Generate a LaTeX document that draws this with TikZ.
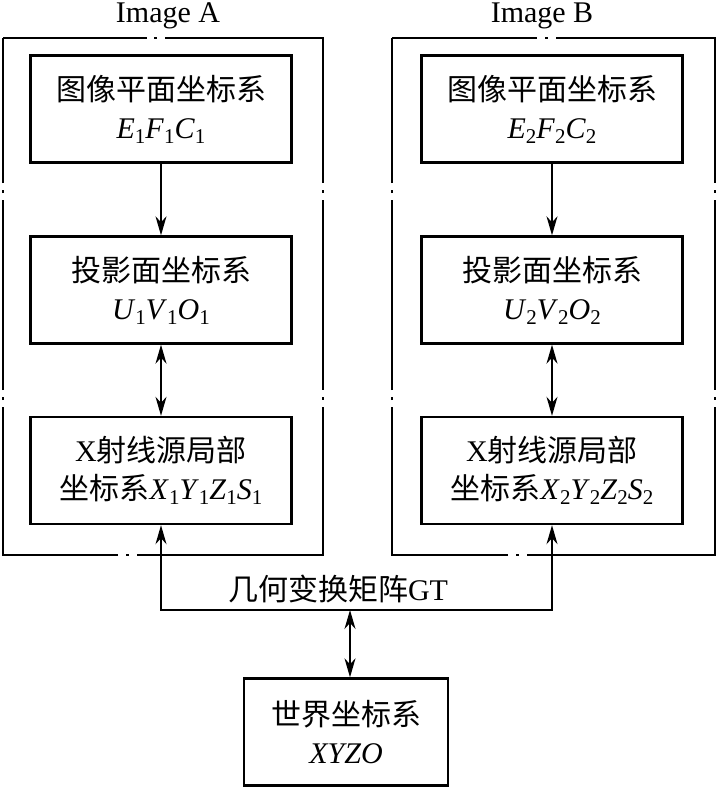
\documentclass[tikz,border=0pt]{standalone}
\usepackage{fontspec}
\setmainfont{Liberation Serif}
\newfontfamily\cjk{Noto Sans CJK SC}
\usetikzlibrary{arrows.meta}
\newcommand{\ssb}[1]{\raisebox{-0.35ex}{\fontsize{21}{21}\selectfont #1}}
\tikzset{
  x=1pt, y=-1pt,
  box/.style={draw, line width=2.4pt, minimum width=261pt, minimum height=107pt, inner sep=0pt, align=center, font=\fontsize{30}{38}\selectfont},
  frame/.style={line width=1.4pt, line cap=butt},
  tip/.tip={Stealth[length=19pt,width=11pt,inset=6pt]},
  arr/.style={line width=1.6pt, -tip},
  darr/.style={line width=1.6pt, tip-tip},
  lbl/.style={font=\fontsize{30}{36}\selectfont, inner sep=0pt}
}
\begin{document}
\begin{tikzpicture}
\useasboundingbox (0,0) rectangle (717,787);
% frames A
\draw[frame] (3,38) -- (147,38) (154,38) -- (157,38) (165,38) -- (323,38)
  -- (323,183) (323,190) -- (323,193) (323,200) -- (323,390) (323,397) -- (323,400) (323,407) -- (323,555)
  -- (137,555) (129,555) -- (126,555) (118,555) -- (3,555)
  -- (3,407) (3,400) -- (3,397) (3,390) -- (3,200) (3,193) -- (3,190) (3,183) -- (3,38);
% frames B
\draw[frame] (392,38) -- (537,38) (545,38) -- (548,38) (556,38) -- (715,38)
  -- (715,183) (715,190) -- (715,193) (715,200) -- (715,390) (715,397) -- (715,400) (715,407) -- (715,555)
  -- (527,555) (519,555) -- (516,555) (508,555) -- (392,555)
  -- (392,407) (392,400) -- (392,397) (392,390) -- (392,200) (392,193) -- (392,190) (392,183) -- (392,38);
\node[lbl, anchor=base] (ta) at (168,23) {Image A};
\node[lbl, anchor=base] (tb) at (542,23) {Image B};
\node[box] (a1) at (161,109) {{\cjk 图像平面坐标系}\\\textit{E}\ssb{1}\textit{F}\ssb{1}\textit{C}\ssb{1}};
\node[box] (a2) at (161,290) {{\cjk 投影面坐标系}\\\textit{U}\ssb{1}\textit{V}\ssb{1}\textit{O}\ssb{1}};
\node[box] (a3) at (161,470.5) {X{\cjk 射线源局部}\\{\cjk 坐标系}\textit{X}\ssb{1}\textit{Y}\ssb{1}\textit{Z}\ssb{1}\textit{S}\ssb{1}};
\node[box] (b1) at (552,109) {{\cjk 图像平面坐标系}\\\textit{E}\ssb{2}\textit{F}\ssb{2}\textit{C}\ssb{2}};
\node[box] (b2) at (552,290) {{\cjk 投影面坐标系}\\\textit{U}\ssb{2}\textit{V}\ssb{2}\textit{O}\ssb{2}};
\node[box] (b3) at (552,470.5) {X{\cjk 射线源局部}\\{\cjk 坐标系}\textit{X}\ssb{2}\textit{Y}\ssb{2}\textit{Z}\ssb{2}\textit{S}\ssb{2}};
\node[box, minimum width=204pt] (w) at (346,732) {{\cjk 世界坐标系}\\\textit{XYZO}};
\node[lbl] (gt) at (338,589) {{\cjk 几何变换矩阵}GT};
\coordinate (gy) at (350,610);
\draw[arr] (a1) -- (a2);
\draw[darr] (a2) -- (a3);
\draw[arr] (b1) -- (b2);
\draw[darr] (b2) -- (b3);
\draw[darr] (a3.south) |- (gy) -| (b3.south);
\draw[darr] (gy) -- (gy |- w.north);
\end{tikzpicture}
\end{document}
